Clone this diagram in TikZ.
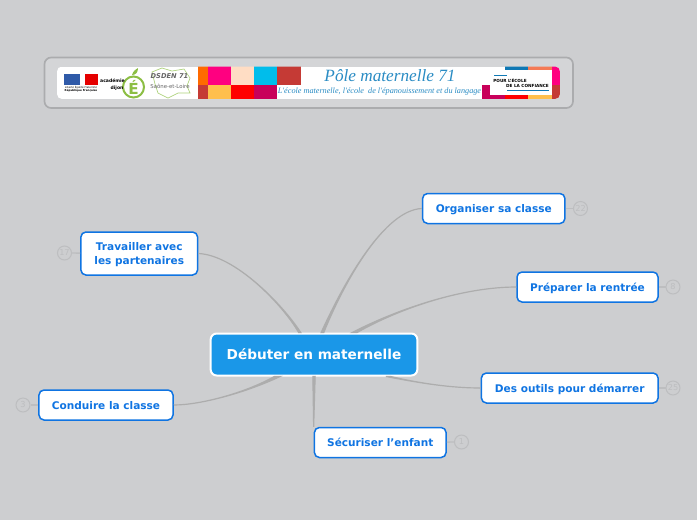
\documentclass[tikz,border=0pt]{standalone}
\usepackage{fontspec}
\setmainfont{DejaVu Sans}
\newfontfamily\handfont{Liberation Serif}
\usetikzlibrary{positioning}
\definecolor{paper}{HTML}{CDCED0}
\definecolor{framegray}{HTML}{ABACAE}
\definecolor{linkgray}{HTML}{ADADAD}
\definecolor{badgegray}{HTML}{BDBEC0}
\definecolor{kidblue}{HTML}{0F74E2}
\definecolor{rootblue}{HTML}{1A97E8}
\definecolor{titleblue}{HTML}{2A8CC4}
\definecolor{leafgreen}{HTML}{8CBE44}
\definecolor{flagblue}{HTML}{2F5AA8}
\definecolor{squareA}{HTML}{FF6A00}
\definecolor{squareB}{HTML}{FF0080}
\definecolor{squareC}{HTML}{FFDDC4}
\definecolor{squareD}{HTML}{00BDEB}
\definecolor{squareE}{HTML}{C53A35}
\definecolor{squareF}{HTML}{FFBF4D}
\definecolor{squareG}{HTML}{FF0000}
\definecolor{squareH}{HTML}{C8005A}
\definecolor{squareI}{HTML}{0F78B4}
\definecolor{squareJ}{HTML}{F47A55}

\begin{document}
\begin{tikzpicture}[
    x=0.03cm, y=-0.03cm,
    topic/.style={rectangle, draw=white, fill=rootblue, text=white, line width=0.06cm, rounded corners=0.18cm, font=\fontsize{11.65}{13}\selectfont\bfseries, text depth=0pt, minimum width=6.2cm, minimum height=1.26cm},
    subtopic/.style={rectangle, draw=kidblue, fill=white, text=kidblue, line width=0.045cm, rounded corners=0.15cm, font=\fontsize{9}{11.6}\selectfont\bfseries, align=center, text depth=0pt, inner sep=0pt, minimum height=0.9cm},
    badge/.style={circle, draw=badgegray, text=badgegray, line width=0.03cm, inner sep=0pt, minimum size=0.42cm, font=\fontsize{7}{8}\selectfont},
    branch/.style={draw=linkgray, fill=linkgray, line width=0.035cm},
    stub/.style={draw=badgegray, line width=0.04cm},
    tiny/.style={inner sep=0pt, font=\fontsize{#1}{#1}\selectfont}
]
\useasboundingbox[fill=paper] (0,0) rectangle (697,520);

% Banner
\draw[framegray, fill=paper!85!white, line width=0.05cm, rounded corners=0.2cm] (44.5,57.5) rectangle (573,108);
\begin{scope}
    \clip[rounded corners=0.15cm] (57,66.5) rectangle (560,99);
    \fill[white] (57,66.5) rectangle (560,99);
    % Squares
    \foreach \xa/\xb/\ya/\yb/\shade in {198/207.5/66/85/squareA, 207.5/231/66/85/squareB, 231/253.5/66/85/squareC, 253.5/277/66/85/squareD, 277/301/66/85/squareE, 198/207.5/85/99/squareE, 207.5/231/85/99/squareF, 231/253.5/85/99/squareG, 253.5/277/85/99/squareH, 481.5/505/85/99/squareH, 505/528/95/99/squareG, 528/552/95/99/squareF, 505/528/66/70/squareI, 528/552/66/70/squareJ, 552/560/66/85/squareB, 552/560/85/99/squareE}
        \fill[\shade] (\xa,\ya) rectangle (\xb,\yb);
    \fill[white] (490,70) rectangle (552,95);
\end{scope}

% Logos
\fill[flagblue] (64,74) rectangle (79.5,84.5);
\fill[red!90!black] (85,74) rectangle (97.5,84.5);
\node[tiny=2.2] (motto) at (81,87.5) {Liberté Égalité Fraternité};
\node[tiny=2.3, below=0.3pt of motto] (republic) {\bfseries République Française};
\draw[leafgreen, line width=0.06cm] (133.5,87) circle (10.5);
\fill[leafgreen] (132,75) .. controls (133,71) and (136,69) .. (138,68) .. controls (138,72) and (136,75) .. cycle;
\node[text=leafgreen, inner sep=0pt, font=\fontsize{13}{13}\selectfont\bfseries] (elogo) at (133.5,87) {É};
\node[inner sep=0pt, font=\fontsize{3.9}{4}\selectfont\bfseries] (academie) at (112.5,81) {académie};
\node[inner sep=0pt, font=\fontsize{3.9}{4}\selectfont\bfseries] (dijon) at (117,88) {dijon};
\draw[leafgreen!70!white, line width=0.02cm] (152,72) -- (162,68) -- (172,71) -- (184,69) -- (190,78) -- (187,86) -- (190,93) -- (178,93) -- (168,98) -- (158,93) -- (155,84) -- cycle;
\node[text=black!60, inner sep=0pt, font=\fontsize{5.7}{6}\selectfont\itshape\bfseries] (dsden) at (169.5,76) {DSDEN 71};
\node[text=black!60, inner sep=0pt, font=\fontsize{4.6}{5}\selectfont] (saone) at (170,86.5) {Saône-et-Loire};

% Title
\node[text=titleblue, inner sep=0pt, font=\handfont\itshape\fontsize{14.7}{15}\selectfont] (title) at (390,75.5) {Pôle maternelle 71};
\node[text=titleblue, inner sep=0pt, font=\handfont\itshape\fontsize{7}{8}\selectfont] (subtitle) at (379.5,91.5) {L\symbol{39}école maternelle, l\symbol{39}école\ \ de l\symbol{39}épanouissement et du langage};
\draw[squareI, line width=0.02cm] (494,75.7) -- (507,75.7);
\node[inner sep=0pt, font=\fontsize{3.6}{4}\selectfont\bfseries] (pour) at (510,80.7) {POUR L\symbol{39}ÉCOLE};
\node[inner sep=0pt, font=\fontsize{3.6}{4}\selectfont\bfseries] (confiance) at (527.5,85.7) {DE LA CONFIANCE};
\draw[squareI, line width=0.02cm] (507,90.7) -- (549,90.7);

% Main topic
\node[topic] (root) at (314,354.5) {Débuter en maternelle};

% Subtopics
\node[subtopic, minimum width=4.27cm] (organiser) at (493.75,208.5) {Organiser sa classe};
\node[subtopic, minimum width=4.23cm] (preparer) at (587.5,287) {Préparer la rentrée};
\node[subtopic, minimum width=5.3cm] (outils) at (569.75,388) {Des outils pour démarrer};
\node[subtopic, minimum width=3.95cm] (securiser) at (380.25,442.5) {Sécuriser l\symbol{39}enfant};
\node[subtopic, minimum width=3.5cm, minimum height=1.29cm] (partenaires) at (139.25,253.5) {Travailler avec\\les partenaires};
\node[subtopic, minimum width=4.02cm] (conduire) at (106,405) {Conduire la classe};

% Branches
\filldraw[branch] (root.125) .. controls (283,305) and (235,255) .. (partenaires.east) .. controls (235,255) and (283,305) .. (root.121) -- cycle;
\filldraw[branch] (root.72) .. controls (345,280) and (385,210) .. (organiser.west) .. controls (385,210) and (345,280) .. (root.66) -- cycle;
\filldraw[branch] (root.30) .. controls (402,307) and (465,287) .. (preparer.west) .. controls (465,287) and (402,307) .. (root.27) -- cycle;
\filldraw[branch] (root.-17) .. controls (410,381) and (445,388) .. (outils.west) .. controls (445,388) and (410,381) .. (root.-16) -- cycle;
\filldraw[branch] (root.209) .. controls (245,393) and (200,405) .. (conduire.east) .. controls (200,405) and (245,393) .. (root.213) -- cycle;
\filldraw[branch] (root.-93) -- (securiser.north west) -- (root.-87) -- cycle;

% Counters
\foreach \kid/\bx/\by/\total in {organiser/580.5/208.5/22, preparer/673/287/8, outils/673/388/25, securiser/461.5/442/1, partenaires/64.5/253/17, conduire/23/405/3} {
    \node[badge] (count\kid) at (\bx,\by) {\total};
    \draw[stub] (\kid) -- (count\kid);
}

\end{tikzpicture}
\end{document}
